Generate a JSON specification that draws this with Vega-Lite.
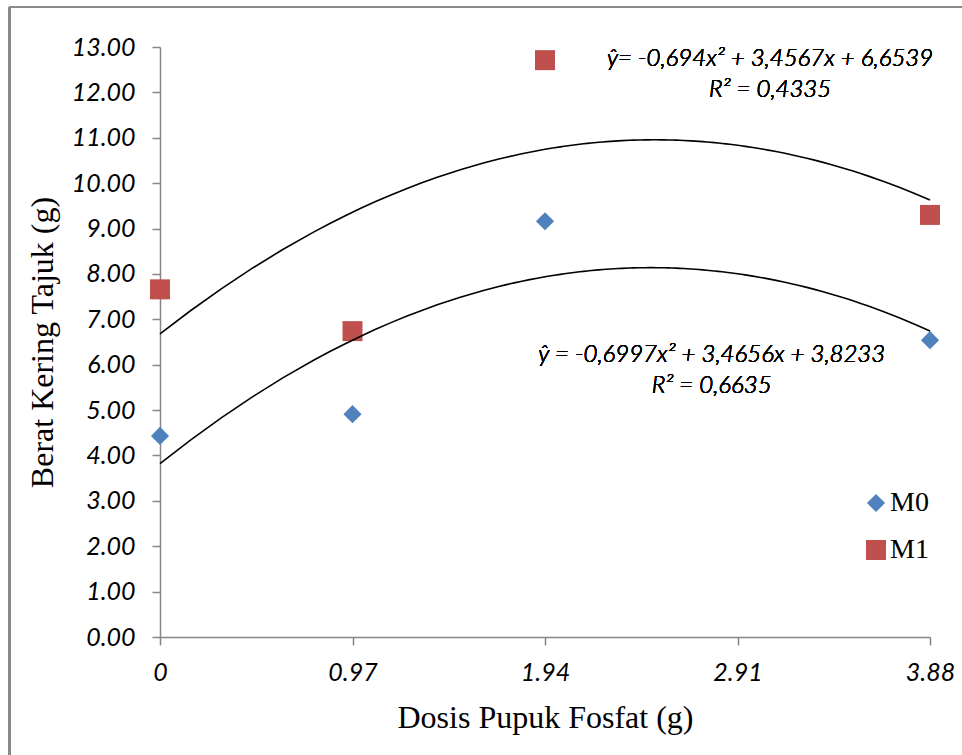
{
  "$schema": "https://vega.github.io/schema/vega-lite/v6.json",
  "autosize": "none",
  "width": 770,
  "height": 590,
  "padding": {"left": 160, "top": 47, "right": 32, "bottom": 118},
  "background": "white",
  "config": {"view": {"stroke": null}},
  "data": {
    "values": [
      {"dosis": 0, "berat": 4.43, "perlakuan": "M0"},
      {"dosis": 0.97, "berat": 4.91, "perlakuan": "M0"},
      {"dosis": 1.94, "berat": 9.16, "perlakuan": "M0"},
      {"dosis": 3.88, "berat": 6.54, "perlakuan": "M0"},
      {"dosis": 0, "berat": 7.66, "perlakuan": "M1"},
      {"dosis": 0.97, "berat": 6.74, "perlakuan": "M1"},
      {"dosis": 1.94, "berat": 12.71, "perlakuan": "M1"},
      {"dosis": 3.88, "berat": 9.30, "perlakuan": "M1"}
    ]
  },
  "layer": [
    {
      "mark": {"type": "point", "filled": true, "opacity": 1},
      "encoding": {
        "x": {
          "field": "dosis", "type": "quantitative",
          "scale": {"domain": [0, 3.88], "nice": false, "zero": false},
          "axis": {
            "title": "Dosis Pupuk Fosfat (g)",
            "values": [0, 0.97, 1.94, 2.91, 3.88],
            "labelExpr": "datum.value === 0 ? '0' : format(datum.value, '.2f')",
            "grid": false,
            "domainColor": "#868686", "domainWidth": 1.5,
            "tickColor": "#868686", "tickWidth": 1.5, "tickSize": 8,
            "labelFont": "Lato", "labelFontStyle": "italic", "labelFontWeight": "normal", "labelFontSize": 25, "labelColor": "#000000",
            "labelPadding": 15, "labelFlush": false,
            "titleFont": "Liberation Serif", "titleFontSize": 32, "titleFontWeight": "normal", "titleColor": "#000000",
            "titlePadding": 17
          }
        },
        "y": {
          "field": "berat", "type": "quantitative",
          "scale": {"domain": [0, 13], "nice": false},
          "axis": {
            "title": "Berat Kering Tajuk (g)",
            "values": [0,1,2,3,4,5,6,7,8,9,10,11,12,13],
            "format": ".2f",
            "grid": false,
            "domainColor": "#868686", "domainWidth": 1.5,
            "tickColor": "#868686", "tickWidth": 1.5, "tickSize": 8,
            "labelFont": "Lato", "labelFontStyle": "italic", "labelFontWeight": "normal", "labelFontSize": 25, "labelColor": "#000000",
            "labelPadding": 17, "labelFlush": false,
            "titleFont": "Liberation Serif", "titleFontSize": 32, "titleFontWeight": "normal", "titleColor": "#000000",
            "titlePadding": 12
          }
        },
        "color": {
          "field": "perlakuan", "type": "nominal",
          "scale": {"domain": ["M0", "M1"], "range": ["#4F81BD", "#C0504D"]},
          "legend": {
            "title": null, "orient": "none", "legendX": 702, "legendY": 442,
            "labelFont": "Liberation Serif", "labelFontSize": 28, "labelColor": "#000000",
            "symbolSize": 320, "symbolStrokeWidth": 0, "rowPadding": 19, "labelOffset": 0
          }
        },
        "shape": {
          "field": "perlakuan", "type": "nominal",
          "scale": {"domain": ["M0", "M1"], "range": ["diamond", "square"]}
        },
        "size": {
          "field": "perlakuan", "type": "nominal",
          "scale": {"domain": ["M0", "M1"], "range": [330, 400]},
          "legend": null
        }
      }
    },
    {
      "transform": [
        {"regression": "berat", "on": "dosis", "groupby": ["perlakuan"], "method": "poly", "order": 2, "extent": [0, 3.88]}
      ],
      "mark": {"type": "line", "color": "#000000", "strokeWidth": 1.6},
      "encoding": {
        "x": {"field": "dosis", "type": "quantitative"},
        "y": {"field": "berat", "type": "quantitative"},
        "detail": {"field": "perlakuan"}
      }
    },
    {
      "mark": {"type": "text", "font": "Lato", "fontStyle": "italic", "fontWeight": 300, "fontSize": 24, "align": "center", "baseline": "middle", "color": "#000000"},
      "encoding": {
        "x": {"datum": 3.074, "type": "quantitative"},
        "y": {"datum": 12.74, "type": "quantitative"},
        "text": {"value": "ŷ= -0,694x² + 3,4567x + 6,6539"}
      }
    },
    {
      "mark": {"type": "text", "font": "Lato", "fontStyle": "italic", "fontWeight": 300, "fontSize": 24, "align": "center", "baseline": "middle", "color": "#000000"},
      "encoding": {
        "x": {"datum": 3.074, "type": "quantitative"},
        "y": {"datum": 12.05, "type": "quantitative"},
        "text": {"value": "R² = 0,4335"}
      }
    },
    {
      "mark": {"type": "text", "font": "Lato", "fontStyle": "italic", "fontWeight": 300, "fontSize": 24, "align": "center", "baseline": "middle", "color": "#000000"},
      "encoding": {
        "x": {"datum": 2.78, "type": "quantitative"},
        "y": {"datum": 6.21, "type": "quantitative"},
        "text": {"value": "ŷ = -0,6997x² + 3,4656x + 3,8233"}
      }
    },
    {
      "mark": {"type": "text", "font": "Lato", "fontStyle": "italic", "fontWeight": 300, "fontSize": 24, "align": "center", "baseline": "middle", "color": "#000000"},
      "encoding": {
        "x": {"datum": 2.78, "type": "quantitative"},
        "y": {"datum": 5.53, "type": "quantitative"},
        "text": {"value": "R² = 0,6635"}
      }
    },
    {
      "mark": {"type": "rule", "color": "#8a8a8a", "strokeWidth": 2},
      "encoding": {
        "x": {"datum": -0.758, "type": "quantitative"},
        "x2": {"datum": 4.5},
        "y": {"datum": 13.88, "type": "quantitative"}
      }
    },
    {
      "mark": {"type": "rule", "color": "#8a8a8a", "strokeWidth": 2},
      "encoding": {
        "x": {"datum": -0.758, "type": "quantitative"},
        "y": {"datum": 13.88, "type": "quantitative"},
        "y2": {"datum": -3}
      }
    }
  ]
}
